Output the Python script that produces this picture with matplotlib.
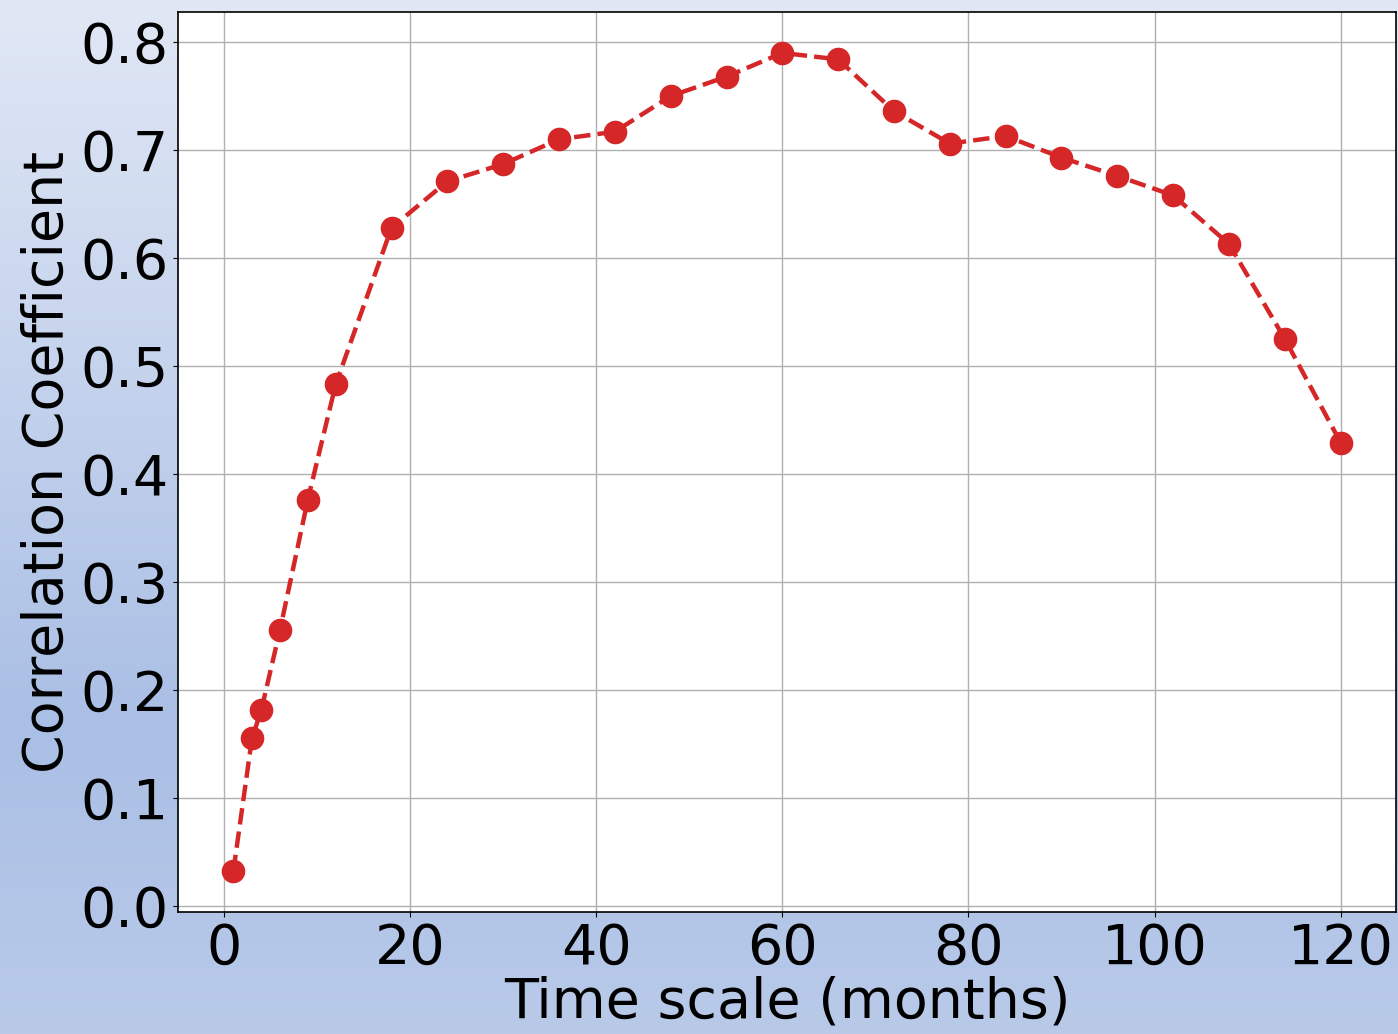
import numpy as np
import matplotlib.pyplot as plt
import matplotlib.colors as mcolors
from matplotlib.ticker import MultipleLocator

# time scales (months) and correlation coefficient
months = [1, 3, 4, 6, 9, 12, 18, 24, 30, 36, 42, 48, 54, 60, 66, 72, 78, 84, 90, 96, 102, 108, 114, 120]
corr = [0.032, 0.155, 0.181, 0.255, 0.376, 0.483, 0.628, 0.671, 0.687, 0.710, 0.717, 0.750,
        0.768, 0.790, 0.784, 0.736, 0.706, 0.713, 0.693, 0.676, 0.658, 0.613, 0.525, 0.429]

fig = plt.figure(figsize=(13.98, 10.34), dpi=100)

# vertical gradient background for the figure
bg = fig.add_axes([0, 0, 1, 1], zorder=-10)
cmap = mcolors.LinearSegmentedColormap.from_list(
    "bg", [(0.0, "#b9cae9"), (0.3, "#aabfe5"), (1.0, "#e1e8f5")]
)
grad = np.linspace(0, 1, 256).reshape(-1, 1)
bg.imshow(grad, aspect="auto", cmap=cmap, origin="lower", extent=[0, 1, 0, 1])
bg.axis("off")

ax = fig.add_axes([178 / 1398, 1 - 912 / 1034, (1396 - 178) / 1398, (912 - 12) / 1034])
ax.set_facecolor("white")
ax.plot(months, corr, color="#d62728", linestyle="--", linewidth=3.2,
        marker="o", markersize=16)
ax.yaxis.set_major_locator(MultipleLocator(0.1))
ax.grid(True, color="#b0b0b0", linewidth=1)
ax.set_axisbelow(True)

ax.set_xlabel("Time scale (months)", fontsize=40, labelpad=0)
ax.set_ylabel("Correlation Coefficient", fontsize=40)
ax.tick_params(labelsize=40)
for s in ax.spines.values():
    s.set_linewidth(1.2)

fig.savefig("out.png", dpi=100)
